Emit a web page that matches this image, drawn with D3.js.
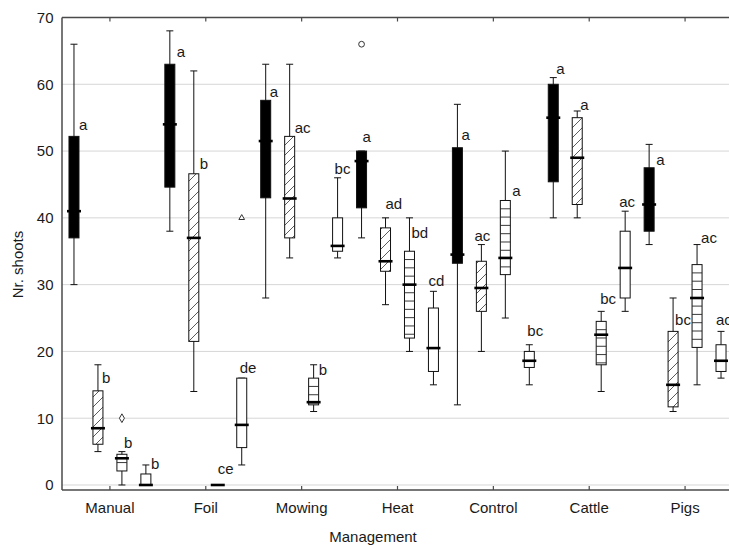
<!DOCTYPE html>
<html><head><meta charset="utf-8">
<script src="https://cdn.jsdelivr.net/npm/d3@7"></script>
<style>
body{margin:0;background:#fff}
svg{display:block;font-family:"Liberation Sans",Arial,sans-serif}
</style>
</head><body>
<svg id="chart" width="729" height="545"></svg>
<script>
// ---------- DATA ----------
const categories = ["Manual", "Foil", "Mowing", "Heat", "Control", "Cattle", "Pigs"];
const seriesKeys = ["solid", "diagonal", "horizontal", "open"];

// each entry: [min, q1, median, q3, max]
const solidStats = [
  [30, 37, 41, 52.2, 66], [38, 44.6, 54, 63, 68], [28, 43, 51.5, 57.6, 63],
  [37, 41.5, 48.5, 50, 50], [12, 33.2, 34.5, 50.5, 57], [40, 45.4, 55, 60, 61],
  [36, 38, 42, 47.5, 51]
];
const diagonalStats = [
  [5, 6.1, 8.5, 14.1, 18], [14, 21.5, 37, 46.6, 62], [34, 37, 42.9, 52.2, 63],
  [27, 32, 33.5, 38.5, 40], [20, 26, 29.5, 33.5, 36], [40, 42, 49, 55, 56],
  [11, 11.7, 15, 23, 28]
];
const horizontalStats = [
  [0, 2.1, 4, 4.6, 5], [0, 0, 0, 0, 0], [11, 12, 12.4, 16, 18],
  [20, 22, 30, 35, 40], [25, 31.5, 34, 42.6, 50], [14, 18, 22.5, 24.5, 26],
  [15, 20.6, 28, 33, 36]
];
const openStats = [
  [0, 0, 0, 1.65, 3], [3, 5.6, 9, 16, 16], [34, 35, 35.8, 40, 46],
  [15, 17, 20.5, 26.5, 29], [15, 17.6, 18.6, 20, 21], [26, 28, 32.5, 38, 41],
  [16, 17, 18.6, 21, 23]
];

// significance letters
const solidLetters = ["a", "a", "a", "a", "a", "a", "a"];
const diagonalLetters = ["b", "b", "ac", "ad", "ac", "a", "bc"];
const horizontalLetters = ["b", "ce", "b", "bd", "a", "bc", "ac"];
const openLetters = ["b", "de", "bc", "cd", "bc", "ac", "ac"];

// value at which each letter's baseline sits
const solidLetterAt = [53.1, 64.1, 58.1, 51.4, 51.6, 61.6, 47.9];
const diagonalLetterAt = [15.2, 47.3, 52.7, 41.4, 36.6, 56.2, 23.9];
const horizontalLetterAt = [5.5, 1.65, 16.5, 37.0, 43.3, 27.1, 36.2];
const openLetterAt = [2.35, 16.7, 46.5, 29.8, 22.3, 41.7, 23.9];

// outliers
const outlierCategory = ["Manual", "Foil", "Heat"];
const outlierSeries = ["horizontal", "open", "solid"];
const outlierValue = [10, 40, 66];
const outlierShape = ["diamond", "triangle", "circle"];

const yTicks = [0, 10, 20, 30, 40, 50, 60, 70];

// ---------- LAYOUT (annotation nudges in px) ----------
const letterNudge = {
  solid: [5, 7, 4, 1, 4, 3, 7],
  diagonal: [4, 6, 5, 0, -7, 3, 2],
  horizontal: [2, 0, 5, 2, 7, -1, 4],
  open: [5, -2, -3, -5, -2, -6, -5]
};

const statsBy = {solid: solidStats, diagonal: diagonalStats, horizontal: horizontalStats, open: openStats};
const lettersBy = {solid: solidLetters, diagonal: diagonalLetters, horizontal: horizontalLetters, open: openLetters};
const letterAtBy = {solid: solidLetterAt, diagonal: diagonalLetterAt, horizontal: horizontalLetterAt, open: openLetterAt};

const svg = d3.select("#chart");
const pL = 62, pR = 733, pT = 17.5, pB = 490;

const x = d3.scaleBand().domain(categories).range([pL, pR]).padding(0);
const xs = d3.scaleBand().domain(seriesKeys).range([-x.bandwidth() / 2, x.bandwidth() / 2]).padding(0);
const y = d3.scaleLinear().domain([-0.75, 70]).range([pB, pT]);

const textColor = "#1a1a1a";
const axisColor = "#4a4a4a";

// patterns
const defs = svg.append("defs");
const diag = defs.append("pattern").attr("id", "diag").attr("patternUnits", "userSpaceOnUse")
  .attr("width", 10).attr("height", 10);
diag.append("rect").attr("width", 10).attr("height", 10).attr("fill", "#fff");
diag.append("path").attr("d", "M-3,3 L3,-3 M0,10 L10,0 M7,13 L13,7")
  .attr("stroke", "#333").attr("stroke-width", 0.8);

// gridlines
svg.append("g").selectAll("line").data(yTicks.filter(t => t < 70)).join("line")
  .attr("x1", pL).attr("x2", pR)
  .attr("y1", d => y(d)).attr("y2", d => y(d))
  .attr("stroke", "#d6d6d6").attr("stroke-width", 1);

// frame
svg.append("line").attr("x1", pL).attr("x2", pR).attr("y1", pT).attr("y2", pT)
  .attr("stroke", axisColor).attr("stroke-width", 1.3);
svg.append("line").attr("x1", pL).attr("x2", pR).attr("y1", pB).attr("y2", pB)
  .attr("stroke", axisColor).attr("stroke-width", 1.5);
svg.append("line").attr("x1", pL).attr("x2", pL).attr("y1", pT).attr("y2", pB)
  .attr("stroke", axisColor).attr("stroke-width", 1.5);

// category ticks (bottom pointing up, top pointing down)
const cats = svg.append("g");
cats.selectAll("line.b").data(categories).join("line").attr("class", "b")
  .attr("x1", d => x(d) + x.bandwidth() / 2).attr("x2", d => x(d) + x.bandwidth() / 2)
  .attr("y1", pB).attr("y2", pB - 4).attr("stroke", axisColor).attr("stroke-width", 1.2);
cats.selectAll("line.t").data(categories).join("line").attr("class", "t")
  .attr("x1", d => x(d) + x.bandwidth() / 2).attr("x2", d => x(d) + x.bandwidth() / 2)
  .attr("y1", pT).attr("y2", pT + 4).attr("stroke", axisColor).attr("stroke-width", 1.2);
cats.selectAll("text").data(categories).join("text")
  .attr("x", d => x(d) + x.bandwidth() / 2).attr("y", 513)
  .attr("text-anchor", "middle").attr("font-size", 15).attr("fill", textColor).text(d => d);

// y labels
svg.append("g").selectAll("text").data(yTicks).join("text")
  .attr("x", 53.5).attr("y", d => y(d)).attr("dy", "0.36em")
  .attr("text-anchor", "end").attr("font-size", 15).attr("fill", textColor).text(d => d);

// axis titles
svg.append("text").attr("x", 373).attr("y", 542).attr("text-anchor", "middle")
  .attr("font-size", 15).attr("fill", textColor).text("Management");
svg.append("text").attr("transform", "translate(23,264.5) rotate(-90)").attr("text-anchor", "middle")
  .attr("font-size", 15).attr("fill", textColor).text("Nr. shoots");

// boxes
const bw = 10, capW = 7, medW = 14, hatchStep = 8.3;
const plot = svg.append("g");
seriesKeys.forEach(key => {
  statsBy[key].forEach((s, i) => {
    const [mn, q1, md, q3, mx] = s;
    const cx = x(categories[i]) + x.bandwidth() / 2 + xs(key) + xs.bandwidth() / 2;
    const g = plot.append("g");
    // whisker
    g.append("line").attr("x1", cx).attr("x2", cx).attr("y1", y(mx)).attr("y2", y(mn))
      .attr("stroke", "#111").attr("stroke-width", 1);
    [mn, mx].forEach(v => {
      if (v === q1 && v === mn && key !== "open") return;
      g.append("line").attr("x1", cx - capW / 2).attr("x2", cx + capW / 2)
        .attr("y1", y(v)).attr("y2", y(v)).attr("stroke", "#111").attr("stroke-width", 1);
    });
    // box
    const fill = key === "solid" ? "#000" : key === "diagonal" ? "url(#diag)" : "#fff";
    g.append("rect").attr("x", cx - bw / 2).attr("y", y(q3))
      .attr("width", bw).attr("height", Math.max(0, y(q1) - y(q3)))
      .attr("fill", fill).attr("stroke", "#111").attr("stroke-width", 1);
    if (key === "horizontal") {
      d3.range(y(q3) + hatchStep, y(q1) - 1, hatchStep).forEach(py => {
        g.append("line").attr("x1", cx - bw / 2).attr("x2", cx + bw / 2)
          .attr("y1", py).attr("y2", py).attr("stroke", "#222").attr("stroke-width", 0.9);
      });
    }
    // median
    g.append("line").attr("x1", cx - medW / 2).attr("x2", cx + medW / 2)
      .attr("y1", y(md)).attr("y2", y(md)).attr("stroke", "#000").attr("stroke-width", 2.6);
    // letter
    g.append("text").attr("x", cx + letterNudge[key][i]).attr("y", y(letterAtBy[key][i]))
      .attr("font-size", 15).attr("fill", textColor).text(lettersBy[key][i]);
  });
});

// outliers
outlierValue.forEach((v, i) => {
  const cx = x(outlierCategory[i]) + x.bandwidth() / 2 + xs(outlierSeries[i]) + xs.bandwidth() / 2;
  const cy = y(v);
  const shape = outlierShape[i];
  const sym = shape === "diamond" ? d3.symbolDiamond : shape === "triangle" ? d3.symbolTriangle : d3.symbolCircle;
  const size = shape === "diamond" ? 22 : shape === "triangle" ? 14 : 26;
  plot.append("path").attr("d", d3.symbol().type(sym).size(size)())
    .attr("transform", `translate(${cx},${cy})`)
    .attr("fill", "#fff").attr("stroke", "#333").attr("stroke-width", 1);
});
</script>
</body></html>
